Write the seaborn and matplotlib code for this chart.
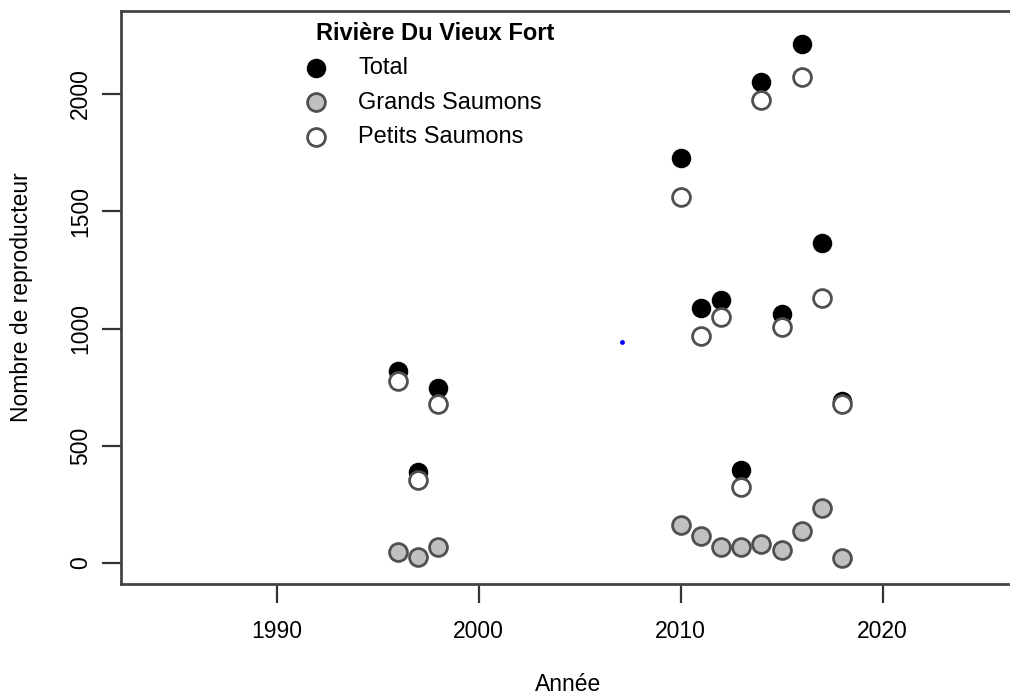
import matplotlib
matplotlib.use("Agg")
import matplotlib.pyplot as plt
import seaborn as sns
import pandas as pd

sns.set_theme(style="white")
plt.rcParams['font.family'] = ['Liberation Sans', 'DejaVu Sans']
plt.rcParams['text.color'] = 'black'
plt.rcParams['axes.labelcolor'] = 'black'

years = [1996, 1997, 1998, 2010, 2011, 2012, 2013, 2014, 2015, 2016, 2017, 2018]
total = [820, 390, 745, 1725, 1088, 1122, 398, 2053, 1062, 2212, 1365, 692]
grands = [46, 27, 70, 162, 117, 70, 70, 80, 54, 137, 233, 22]
petits = [776, 356, 676, 1560, 970, 1047, 325, 1973, 1005, 2072, 1130, 676]
blue_x = [2007.1]
blue_y = [944]

legend_title = "Rivière Du Vieux Fort"
labels = ["Total", "Grands Saumons", "Petits Saumons"]

W, H = 1010, 696
fig = plt.figure(figsize=(W / 100, H / 100), dpi=100)
ax = fig.add_axes([121 / W, 1 - 583.5 / H, (1015 - 121) / W, (583.5 - 11) / H])

df_t = pd.DataFrame({"x": years, "y": total})
df_g = pd.DataFrame({"x": years, "y": grands})
df_p = pd.DataFrame({"x": years, "y": petits})

ms = 165
sns.scatterplot(data=df_t, x="x", y="y", ax=ax, s=ms, color="black",
                edgecolor="black", linewidth=1.2, label=labels[0], zorder=3)
sns.scatterplot(data=df_g, x="x", y="y", ax=ax, s=ms, color="#c0c0c0",
                edgecolor="#505050", linewidth=2.0, label=labels[1], zorder=3)
sns.scatterplot(data=df_p, x="x", y="y", ax=ax, s=ms, color="white",
                edgecolor="#505050", linewidth=2.0, label=labels[2], zorder=4)
ax.scatter(blue_x, blue_y, s=6, color="blue", zorder=5)

x0 = 2010 - (680.5 - 121) / 20.2
x1 = 2010 + (1015 - 680.5) / 20.2
ax.set_xlim(x0, x1)
y0 = -(583.5 - 563) / 0.2345
y1 = (563 - 11) / 0.2345
ax.set_ylim(y0, y1)

ax.set_xticks([1990, 2000, 2010, 2020])
ax.set_yticks([0, 500, 1000, 1500, 2000])
ax.tick_params(axis="both", which="both", direction="out", length=14, width=1.6,
               color="#333333", labelsize=16.5, labelcolor="black",
               left=True, bottom=True)
ax.tick_params(axis="x", pad=12)
ax.tick_params(axis="y", pad=7)
for lab in ax.get_yticklabels():
    lab.set_rotation(90)
    lab.set_va("center")

for side in ["left", "bottom", "top", "right"]:
    ax.spines[side].set_visible(True)
    ax.spines[side].set_color("#444444")
    ax.spines[side].set_linewidth(2.0)

ax.set_xlabel("Année", fontsize=16.5, labelpad=22)
ax.set_ylabel("Nombre de reproducteur", fontsize=16.5, labelpad=26)

fs = 17
fpx = fs * 100 / 72
leg = ax.legend(loc="upper left",
                bbox_to_anchor=((316 - fpx - 0.4 * fpx) / W, 1 - (68 - 11 - 0.4 * fpx) / H),
                bbox_transform=fig.transFigure,
                frameon=False, fontsize=fs, handlelength=2.0, handletextpad=0.78,
                labelspacing=0.53, borderaxespad=0.0, borderpad=0.4)
fig.text(316 / W, 1 - 33 / H, legend_title, fontsize=fs, fontweight="bold",
         ha="left", va="center")

fig.savefig("out.png", dpi=100)
